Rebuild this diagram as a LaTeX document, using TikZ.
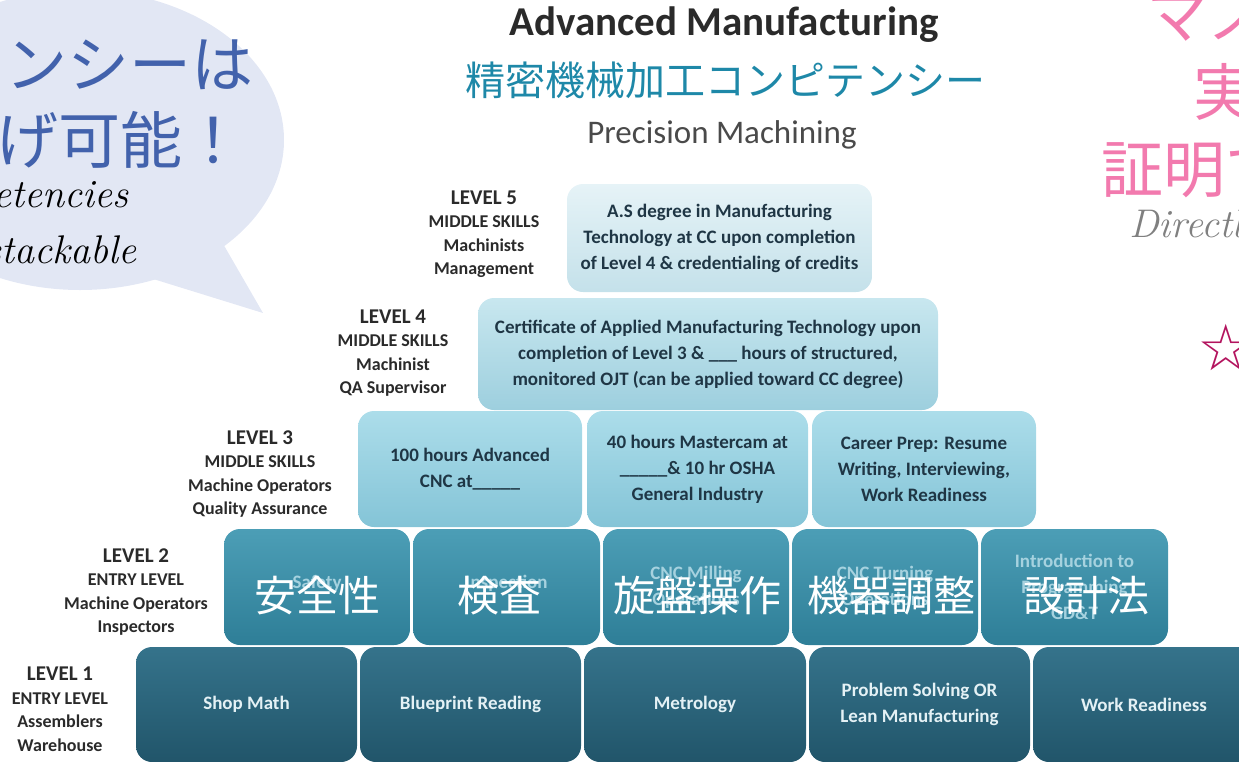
\documentclass[tikz,border=0pt]{standalone}
\usepackage{fontspec}
\usepackage{tikz}
\usetikzlibrary{positioning}
\newfontfamily\calfont{Carlito}
\newfontfamily\jpfont{Noto Sans CJK JP}
\newfontfamily\symfont{DejaVu Sans}
\definecolor{bubblefill}{HTML}{E2E7F4}
\definecolor{bubbletext}{HTML}{4262AC}
\definecolor{pinktext}{HTML}{F27AAE}
\definecolor{starcol}{HTML}{B3145E}
\definecolor{titleteal}{HTML}{1E88A8}
\definecolor{fivetop}{HTML}{E6F3F7}
\definecolor{fivebot}{HTML}{C4E1EA}
\definecolor{fourtop}{HTML}{C8E7EF}
\definecolor{fourbot}{HTML}{9DCFDE}
\definecolor{threetop}{HTML}{ACDDEA}
\definecolor{threebot}{HTML}{84C4D7}
\definecolor{twotop}{HTML}{4C9EB6}
\definecolor{twobot}{HTML}{2E7E97}
\definecolor{onetop}{HTML}{35738B}
\definecolor{onebot}{HTML}{21556A}
\definecolor{darktext}{HTML}{1F3645}
\definecolor{lighttext}{HTML}{E4F1F5}
\definecolor{fainttext}{HTML}{A6D2DF}
\definecolor{labeltext}{HTML}{2A2A2A}

\begin{document}
\begin{tikzpicture}[x=1pt,y=-1pt,
  every node/.style={inner sep=0pt},
  tier/.style={rounded corners=16pt, align=center,
    font=\calfont\bfseries\fontsize{19}{26}\selectfont},
  tierfive/.style={tier, top color=fivetop, bottom color=fivebot, text=darktext},
  tierfour/.style={tier, top color=fourtop, bottom color=fourbot, text=darktext},
  tierthree/.style={tier, top color=threetop, bottom color=threebot, text=darktext,
    minimum height=116pt},
  tiertwo/.style={tier, top color=twotop, bottom color=twobot, text=fainttext,
    minimum height=116pt},
  tierone/.style={tier, top color=onetop, bottom color=onebot, text=lighttext,
    minimum height=115pt},
  levellabel/.style={align=center, text=labeltext,
    font=\calfont\bfseries\fontsize{18}{23.5}\selectfont},
  jpover/.style={text=white, font=\jpfont\fontsize{42}{46}\selectfont},
  bubbleline/.style={anchor=east, text=bubbletext, font=\jpfont\fontsize{62}{66}\selectfont},
  pinkline/.style={anchor=west, text=pinktext, font=\jpfont\fontsize{62}{66}\selectfont},
  handline/.style={font=\itshape\fontsize{40}{44}\selectfont}]
\useasboundingbox (0,0) rectangle (1239,761);

% speech bubble
\fill [bubblefill] (80,140) ellipse [x radius=204pt, y radius=150pt];
\fill [bubblefill] (150,278) -- (263,313) -- (222,242) -- cycle;
\node (bubbleone) [bubbleline] at (254,64) {コンピテンシーは};
\node (bubbletwo) [bubbleline] at (245,140) {積み上げ可能！};
\node (bubblethree) [handline, anchor=east, text=black] at (129,197) {Competencies};
\node (bubblefour) [handline, anchor=east, text=black] at (137,250) {are stackable};

% right side text
\node (pinkone) [pinkline] at (1146,15) {マスターした};
\node (pinktwo) [pinkline] at (1193,92) {実務能力を};
\node (pinkthree) [pinkline] at (1101,170) {証明できる！};
\node (direct) [handline, anchor=west, text=gray] at (1129,227) {Directly verifiable};
\node (star) [text=starcol, font=\symfont\fontsize{64}{68}\selectfont] at (1226,347) {☆};

% titles
\node (title) [text=labeltext, font=\calfont\bfseries\fontsize{41}{45}\selectfont] at (724,25) {Advanced Manufacturing};
\node (jptitle) [text=titleteal, font=\jpfont\fontsize{40}{44}\selectfont] at (725,80) {精密機械加工コンピテンシー};
\node (subtitle) [text=labeltext!85!white, font=\calfont\fontsize{33}{37}\selectfont] at (722,135) {Precision Machining};

% level labels
\node (labfive) [levellabel] at (484,234) {{\fontsize{21}{23.5}\selectfont LEVEL 5}\\MIDDLE SKILLS\\Machinists\\Management};
\node (labfour) [levellabel] at (393,353) {{\fontsize{21}{23.5}\selectfont LEVEL 4}\\MIDDLE SKILLS\\Machinist\\QA Supervisor};
\node (labthree) [levellabel] at (260,474) {{\fontsize{21}{23.5}\selectfont LEVEL 3}\\MIDDLE SKILLS\\Machine Operators\\Quality Assurance};
\node (labtwo) [levellabel] at (136,592) {{\fontsize{21}{23.5}\selectfont LEVEL 2}\\ENTRY LEVEL\\Machine Operators\\Inspectors};
\node (labone) [levellabel] at (60,709) {{\fontsize{21}{23.5}\selectfont LEVEL 1}\\ENTRY LEVEL\\Assemblers\\Warehouse};

% level 5 and 4
\node (boxfive) [tierfive, minimum width=305pt, minimum height=108pt] at (719.5,238) {A.S degree in Manufacturing\\Technology at CC upon completion\\of Level 4 \& credentialing of credits};
\node (boxfour) [tierfour, minimum width=460pt, minimum height=112pt] at (708,354) {Certificate of Applied Manufacturing Technology upon\\completion of Level 3 \& \_\_\_ hours of structured,\\monitored OJT (can be applied toward CC degree)};

% level 3
\node (cnc) [tierthree, minimum width=224pt] at (470,469) {100 hours Advanced\\CNC at\_\_\_\_\_};
\node (mastercam) [tierthree, minimum width=221pt] at (697.5,469) {40 hours Mastercam at\\\_\_\_\_\_\& 10 hr OSHA\\General Industry};
\node (career) [tierthree, minimum width=224pt] at (924,469) {Career Prep: Resume\\Writing, Interviewing,\\Work Readiness};

% level 2
\node (safety) [tiertwo, minimum width=186pt] at (317,587) {\raisebox{10pt}{Safety}};
\node (inspect) [tiertwo, minimum width=187pt] at (506.5,587) {\raisebox{10pt}{Inspection}};
\node (milling) [tiertwo, minimum width=186pt] at (696,587) {CNC Milling\\Operations};
\node (turning) [tiertwo, minimum width=186pt] at (885,587) {CNC Turning\\Operations};
\node (program) [tiertwo, minimum width=187pt] at (1074.5,587) {Introduction to\\Programming\\GD\&T};
\node (jpsafety) [jpover] at (317,596) {安全性};
\node (jpinspect) [jpover] at (499,596) {検査};
\node (jpmilling) [jpover] at (697,596) {旋盤操作};
\node (jpturning) [jpover] at (891,596) {機器調整};
\node (jpprogram) [jpover] at (1086,596) {設計法};

% level 1
\node (shopmath) [tierone, minimum width=221pt] at (246.5,704.5) {Shop Math};
\node (blueprint) [tierone, minimum width=221pt] at (470.5,704.5) {Blueprint Reading};
\node (metrology) [tierone, minimum width=222pt] at (695,704.5) {Metrology};
\node (problem) [tierone, minimum width=221pt] at (919.5,704.5) {Problem Solving OR\\Lean Manufacturing};
\node (workready) [tierone, minimum width=222pt] at (1144,704.5) {Work Readiness};
\end{tikzpicture}
\end{document}
